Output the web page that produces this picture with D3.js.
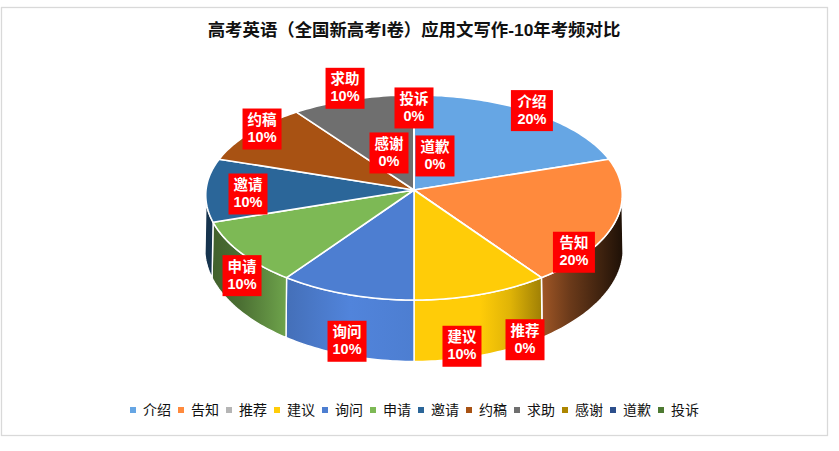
<!DOCTYPE html>
<html>
<head>
<meta charset="utf-8">
<script src="https://cdn.jsdelivr.net/npm/d3@7"></script>
<style>
  html, body { margin: 0; padding: 0; background: #fff; }
  text { font-family: "Liberation Sans", "Noto Sans CJK SC", sans-serif; }
</style>
</head>
<body>
<div id="chart"></div>
<script>
// Chart data
var titleText = "高考英语（全国新高考I卷）应用文写作-10年考频对比";
var categories = ["介绍", "告知", "推荐", "建议", "询问", "申请", "邀请", "约稿", "求助", "感谢", "道歉", "投诉"];
var percents = [20, 20, 0, 10, 10, 10, 10, 10, 10, 0, 0, 0];
var colors = ["#66A6E4", "#FF8A3D", "#B5B5B5", "#FFCC08", "#4D7ED1", "#7DB955",
  "#2B6699", "#A85213", "#6F6F6F", "#AD8600", "#2C4F8C", "#4E7A32"];

// label box offset from the rim point of each slice (placed by hand in the original)
var labelNudge = [[0.4, -1.5], [-41, 30], [-16.4, 62], [-19.5, 52], [0.5, 47], [1.4, 23],
  [42, 4], [11.5, -3.5], [-7.6, -11], [-25, 58], [21, 61], [0, 13]];

var svgWidth = 839;
var svgHeight = 451;

var svg = d3.select("#chart")
  .append("svg")
  .attr("width", svgWidth)
  .attr("height", svgHeight)
  .style("display", "block");

// chart frame
svg.append("rect")
  .attr("x", 1.5)
  .attr("y", 7.5)
  .attr("width", 826)
  .attr("height", 428)
  .attr("fill", "#fff")
  .attr("stroke", "#d9d9d9")
  .attr("stroke-width", 1.3);

svg.append("text")
  .attr("x", 414)
  .attr("y", 36)
  .attr("text-anchor", "middle")
  .attr("font-size", 17.4)
  .attr("font-weight", "bold")
  .attr("fill", "#111")
  .text(titleText);

// Perspective projection of the pie's top and bottom circles
var perspY = 0.0732;
var perspX = 0.05;

function topRim(angle) {
  var u = Math.sin(angle), v = Math.cos(angle);
  return [414 + 208 * u / (1 + perspX * v), 190 - 102 * v / (1 + perspY * v)];
}

function bottomRim(angle) {
  var u = Math.sin(angle), v = Math.cos(angle);
  return [414 + 209 * u / (1 + perspX * v), 243.4 - 109.4 * v / (1 + perspY * v)];
}

function arcAngles(a0, a1) {
  var steps = Math.max(1, Math.ceil((a1 - a0) / 0.02));
  return d3.range(steps + 1).map(i => a0 + (a1 - a0) * i / steps);
}

var line = d3.line();

var pie = d3.pie().sort(null).value(d => d);
var slices = pie(percents);

// Side wall shading runs left to right across the whole pie
var shadeX = [206, 240, 286, 350, 414, 480, 510, 541, 570, 600, 622];
var shadeK = [0.5, 0.6, 0.88, 1.05, 1, 1, 0.88, 0.63, 0.42, 0.25, 0.12];
var xOffset = d3.scaleLinear().domain([206, 622]).range([0, 100]);

var defs = svg.append("defs");
colors.forEach(function(c, i) {
  var grad = defs.append("linearGradient")
    .attr("id", "wall" + i)
    .attr("gradientUnits", "userSpaceOnUse")
    .attr("x1", 206).attr("x2", 622)
    .attr("y1", 0).attr("y2", 0);
  shadeX.forEach(function(x, j) {
    var base = d3.rgb(c);
    var k = shadeK[j];
    grad.append("stop")
      .attr("offset", xOffset(x) + "%")
      .attr("stop-color", d3.rgb(Math.min(255, base.r * k), Math.min(255, base.g * k), Math.min(255, base.b * k)));
  });
});

// walls, only the part facing us
var wallStart = Math.PI * 0.53;
var wallEnd = Math.PI * 1.47;

svg.append("g").selectAll("path")
  .data(slices)
  .enter()
  .append("path")
  .attr("d", function(d) {
    var a0 = Math.max(d.startAngle, wallStart);
    var a1 = Math.min(d.endAngle, wallEnd);
    if (a1 < a0) return null;
    var angles = arcAngles(a0, a1);
    return line(angles.map(topRim).concat(angles.reverse().map(bottomRim))) + "Z";
  })
  .attr("fill", (d, i) => "url(#wall" + i + ")")
  .attr("stroke", "#fff")
  .attr("stroke-width", 1.4);

// top face
svg.append("g").selectAll("path")
  .data(slices)
  .enter()
  .append("path")
  .attr("d", function(d) {
    var pts = arcAngles(d.startAngle, d.endAngle).map(topRim);
    return line([[414, 190]].concat(pts)) + "Z";
  })
  .attr("fill", (d, i) => colors[i])
  .attr("stroke", "#fff")
  .attr("stroke-width", 1.6)
  .attr("stroke-linejoin", "round");

// data labels
var labels = svg.append("g").selectAll("g")
  .data(slices)
  .enter()
  .append("g")
  .attr("transform", function(d, i) {
    var p = topRim((d.startAngle + d.endAngle) / 2);
    return "translate(" + (p[0] + labelNudge[i][0]) + "," + (p[1] + labelNudge[i][1]) + ")";
  });

labels.append("rect")
  .attr("x", d => d.value >= 20 ? -21 : -19.5)
  .attr("y", -20.5)
  .attr("width", d => d.value >= 20 ? 42 : 39)
  .attr("height", 41)
  .attr("fill", "#FF0000");

labels.append("text")
  .attr("text-anchor", "middle")
  .attr("y", -4)
  .attr("font-size", 14.5)
  .attr("font-weight", "bold")
  .attr("fill", "#fff")
  .text((d, i) => categories[i]);

labels.append("text")
  .attr("text-anchor", "middle")
  .attr("y", 13)
  .attr("font-size", 14.5)
  .attr("font-weight", "bold")
  .attr("fill", "#fff")
  .text(d => d.value + "%");

// legend
var legendX = d3.scalePoint()
  .domain(categories)
  .range([130, 658]);

var legend = svg.append("g").selectAll("g")
  .data(categories)
  .enter()
  .append("g")
  .attr("transform", d => "translate(" + legendX(d) + ",410)");

legend.append("rect")
  .attr("x", 0)
  .attr("y", -3)
  .attr("width", 6)
  .attr("height", 6)
  .attr("fill", (d, i) => colors[i]);

legend.append("text")
  .attr("x", 13)
  .attr("y", 5)
  .attr("font-size", 14)
  .attr("fill", "#111")
  .text(d => d);
</script>
</body>
</html>
